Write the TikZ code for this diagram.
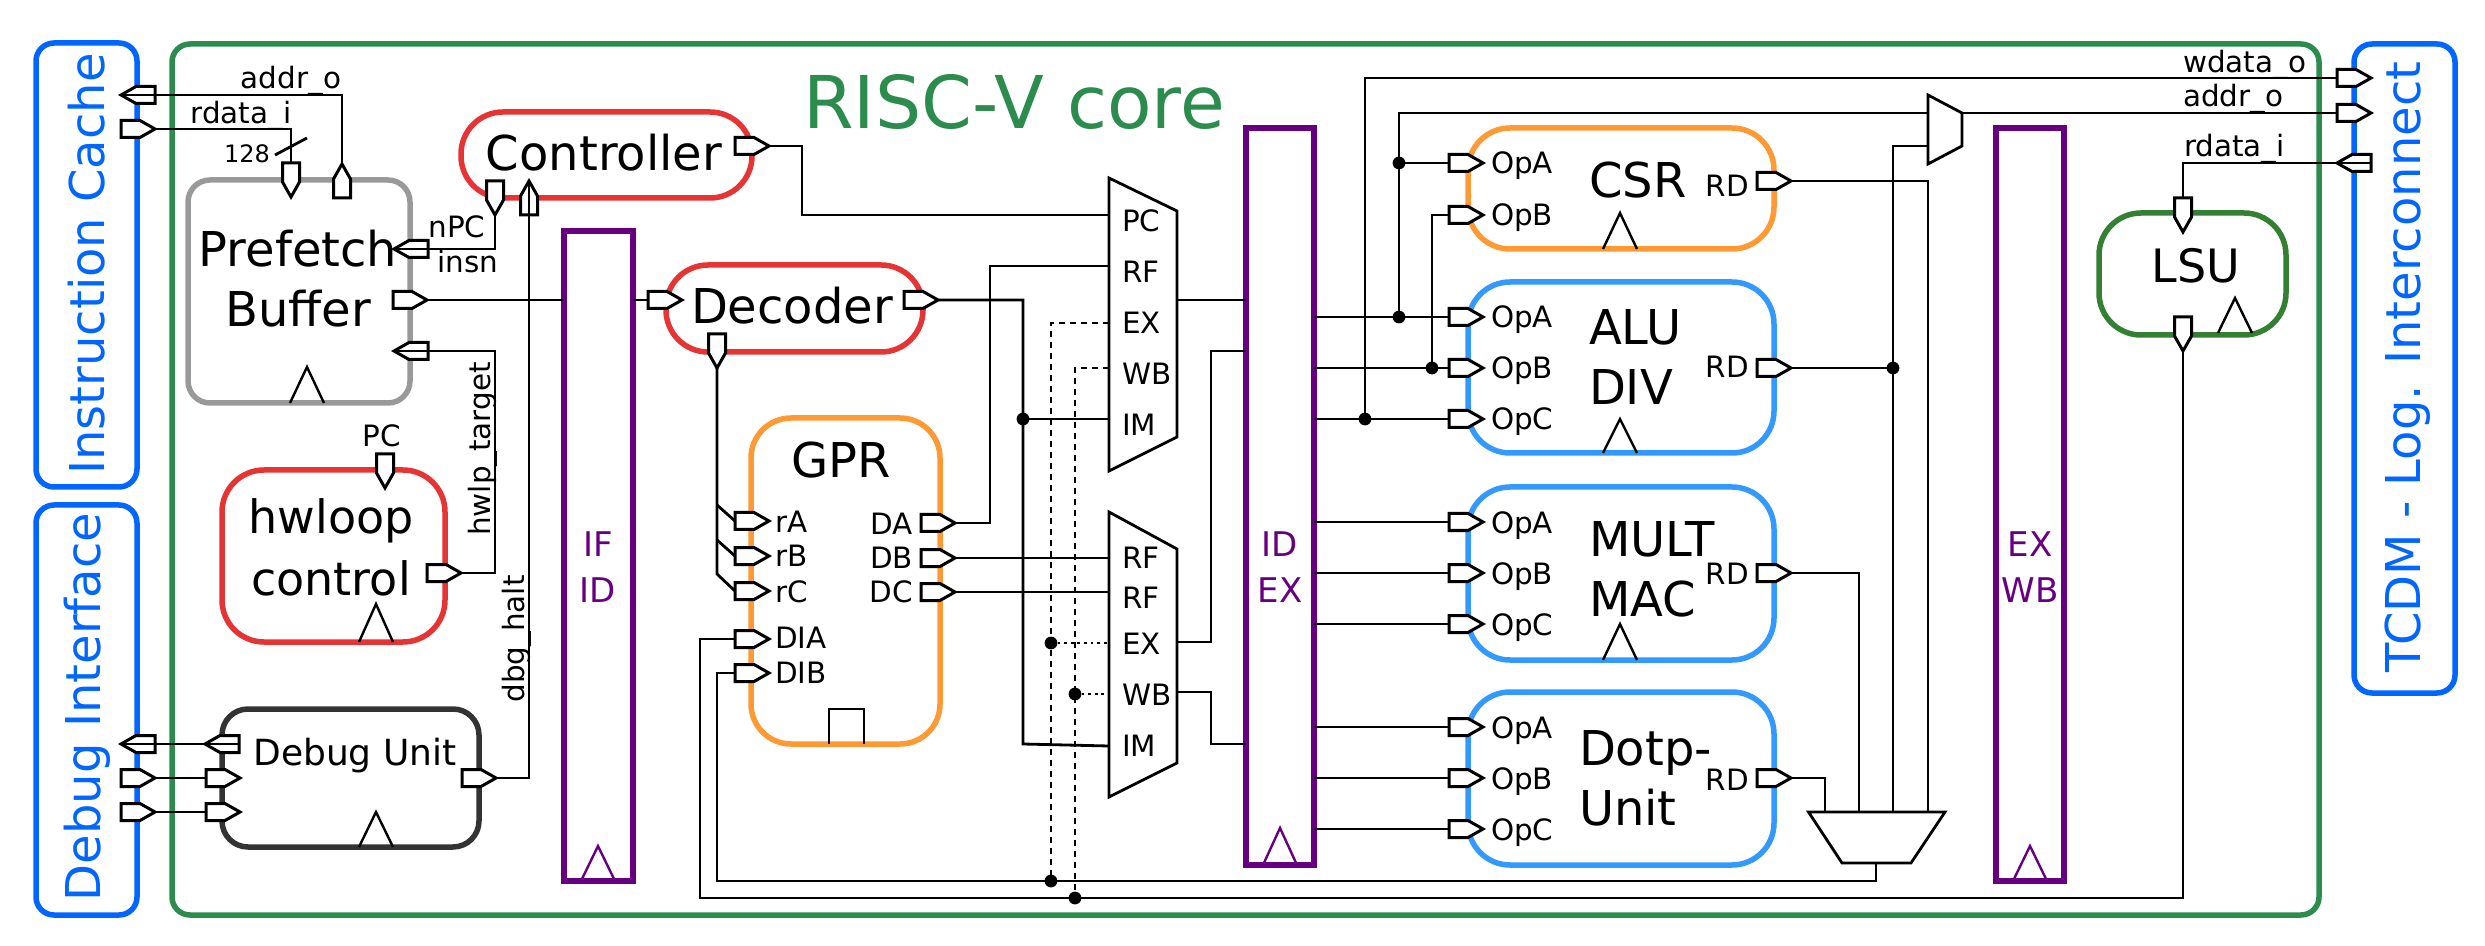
\documentclass[tikz,border=0pt]{standalone}
\usepackage{fontspec}
\setmainfont{DejaVu Sans}
\definecolor{cOuter}{HTML}{0066FF}
\definecolor{cCore}{HTML}{2B8C4D}
\definecolor{cRed}{HTML}{E63333}
\definecolor{cGray}{HTML}{999999}
\definecolor{cOrange}{HTML}{FF9933}
\definecolor{cBlue}{HTML}{3399FF}
\definecolor{cPurple}{HTML}{660080}
\definecolor{cLsu}{HTML}{338033}
\definecolor{cDbg}{HTML}{333333}
\tikzset{
  blockst/.style={draw, line width=2.75pt, inner sep=0pt, outer sep=0pt, fill=none},
  portline/.style={draw=black, fill=white, line width=1.5pt, line join=miter},
  portbase/.style={shape=rectangle, inner sep=0pt, outer sep=0pt},
  portR/.style={portbase, anchor=west, minimum width=17pt, minimum height=8.5pt,
    append after command={\pgfextra{\draw[portline] (\tikzlastnode.north west) -- ([xshift=-7.5pt]\tikzlastnode.north east) -- (\tikzlastnode.east) -- ([xshift=-7.5pt]\tikzlastnode.south east) -- (\tikzlastnode.south west) -- cycle;}}},
  portL/.style={portbase, anchor=east, minimum width=17pt, minimum height=8.5pt,
    append after command={\pgfextra{\draw[portline] (\tikzlastnode.north east) -- ([xshift=7.5pt]\tikzlastnode.north west) -- (\tikzlastnode.west) -- ([xshift=7.5pt]\tikzlastnode.south west) -- (\tikzlastnode.south east) -- cycle;}}},
  portU/.style={portbase, anchor=south, minimum width=8.5pt, minimum height=17pt,
    append after command={\pgfextra{\draw[portline] (\tikzlastnode.south west) -- ([yshift=-7.5pt]\tikzlastnode.north west) -- (\tikzlastnode.north) -- ([yshift=-7.5pt]\tikzlastnode.north east) -- (\tikzlastnode.south east) -- cycle;}}},
  portD/.style={portbase, anchor=north, minimum width=8.5pt, minimum height=17pt,
    append after command={\pgfextra{\draw[portline] (\tikzlastnode.north west) -- ([yshift=7.5pt]\tikzlastnode.south west) -- (\tikzlastnode.south) -- ([yshift=7.5pt]\tikzlastnode.south east) -- (\tikzlastnode.north east) -- cycle;}}},
  wire/.style={draw=black, line width=1.4pt, line join=miter},
  dash1/.style={wire, dash pattern=on 3pt off 2.5pt},
  dot1/.style={wire, dash pattern=on 1.4pt off 1.9pt},
  clockst/.style={draw=black, line width=1.2pt, line join=miter},
  muxst/.style={draw=black, line width=1.4pt, fill=white, line join=miter},
  jdot/.style={circle, fill=black, inner sep=0pt, minimum size=6.4pt},
  lbl/.style={inner sep=0pt, outer sep=0pt, font=\fontsize{14.7}{18}\selectfont, anchor=base},
  lblW/.style={lbl, anchor=base west},
  lblE/.style={lbl, anchor=base east},
  big/.style={inner sep=0pt, outer sep=0pt, font=\fontsize{24}{30}\selectfont, align=center},
  bar/.style={inner sep=0pt, outer sep=0pt, font=\fontsize{17}{23}\selectfont, align=center, text=cPurple},
  outerlbl/.style={inner sep=0pt, outer sep=0pt, font=\fontsize{24}{30}\selectfont, text=cOuter, rotate=90, anchor=base},
  vlbl/.style={inner sep=0pt, outer sep=0pt, font=\fontsize{14.7}{18}\selectfont, rotate=90, anchor=base},
}
\newcommand{\bblk}[7]{% name x1 y1 x2 y2 colour radius
  \node[blockst, draw=#6, rounded corners=#7*0.5pt,
        minimum width={(#4-#2)*0.5pt}, minimum height={(#5-#3)*0.5pt}]
        (#1) at ({(#2+#4)/2},{(#3+#5)/2}) {};}
\newcommand{\clk}[4]{% x apexy basey colour
  \draw[clockst, draw=#4] ({#1-17},#3) -- (#1,#2) -- ({#1+17},#3);}
\begin{document}
\begin{tikzpicture}[x=0.5pt,y=-0.5pt]
\useasboundingbox (0,0) rectangle (2485,946);
% --- outer frames
\bblk{ic}{36}{43}{137}{487}{cOuter}{18}
\bblk{dbgif}{36}{505}{137}{915}{cOuter}{18}
\bblk{core}{172}{44}{2319}{915}{cCore}{18}
\bblk{tcdm}{2354}{44}{2455}{693}{cOuter}{18}
\node[outerlbl] (lIC) at (104,264) {Instruction Cache};
\node[outerlbl] (lDI) at (100.5,707) {Debug Interface};
\node[outerlbl] (lTC) at (2420,367) {TCDM - Log. Interconnect};
\node[inner sep=0pt, anchor=base, font=\fontsize{36.4}{40}\selectfont, text=cCore] (lCore) at (1014,129) {RISC-V core};
% --- blocks
\bblk{pf}{188}{180}{410}{403}{cGray}{22}
\bblk{ctrl}{461}{112}{752}{198}{cRed}{42}
\bblk{dec}{666}{265}{923}{352}{cRed}{42}
\bblk{hw}{222}{470}{445}{642}{cRed}{42}
\bblk{dbg}{222}{709}{479}{847}{cDbg}{26}
\bblk{gpr}{751}{418}{940}{744}{cOrange}{40}
\bblk{csr}{1468}{128}{1774}{249}{cOrange}{42}
\bblk{alu}{1468}{282}{1774}{453}{cBlue}{42}
\bblk{mul}{1468}{487}{1774}{660}{cBlue}{42}
\bblk{dot}{1468}{692}{1774}{865}{cBlue}{42}
\bblk{lsu}{2099}{213}{2286}{335}{cLsu}{42}
\bblk{ifid}{564}{231}{633}{881}{cPurple}{0}
\bblk{idex}{1246}{128}{1314}{865}{cPurple}{0}
\bblk{exwb}{1996}{128}{2064}{881}{cPurple}{0}
% --- block texts
\node[big] (tPf) at (298,279) {Prefetch\\Buffer};
\node[big, anchor=base] (tCtrl) at (604,171) {Controller};
\node[big, anchor=base] (tDec) at (792,324) {Decoder};
\node[big, font=\fontsize{23}{31}\selectfont] (tHw) at (331,547) {hwloop\\control};
\node[inner sep=0pt, anchor=base, font=\fontsize{18}{22}\selectfont] (tDbg) at (355,765) {Debug Unit};
\node[big, anchor=base] (tGpr) at (841,478) {GPR};
\node[big, anchor=base west] (tCsr) at (1589,198) {CSR};
\node[big, anchor=west, align=left] (tAlu) at (1589,357.5) {ALU\\DIV};
\node[big, anchor=west, align=left] (tMul) at (1589,569) {MULT\\MAC};
\node[big, anchor=west, align=left] (tDot) at (1579,778) {Dotp-\\Unit};
\node[big, anchor=base, font=\fontsize{23}{30}\selectfont] (tLsu) at (2196,283) {LSU};
\node[bar] (tIf) at (598,567.5) {IF\\ID};
\node[bar] (tId) at (1280,567.5) {ID\\EX};
\node[bar] (tEx) at (2030,567.5) {EX\\WB};
% --- clock marks
\clk{307}{367}{403}{black}
\clk{376}{604}{642}{black}
\clk{376}{812}{847}{black}
\clk{1620}{213}{249}{black}
\clk{1620}{419}{453}{black}
\clk{1620}{624}{660}{black}
\clk{2235}{298}{333}{black}
\clk{598}{846}{881}{cPurple}
\clk{1280}{828}{865}{cPurple}
\clk{2030}{846}{881}{cPurple}
\draw[clockst] (829,744) -- (829,709) -- (864,709) -- (864,744);
% --- multiplexers
\draw[muxst] (1109,178) -- (1177,211) -- (1177,437) -- (1109,471) -- cycle;
\draw[muxst] (1109,512) -- (1177,549) -- (1177,763) -- (1109,797) -- cycle;
\draw[muxst] (1928,95) -- (1962,113) -- (1962,146) -- (1928,164) -- cycle;
\draw[muxst] (1808.5,812) -- (1945,812) -- (1911,863) -- (1842,863) -- cycle;
\foreach \n/\x/\y in {mAo/1962/113, mAa/1928/113, mAb/1928/146,
  mBd/1825/812, mBm/1859/812, mBa/1893/812, mBc/1928/812, mBo/1876/863,
  mPC/1109/215, mRF/1109/266, mEX/1109/323, mWB/1109/368, mIM/1109/419, mOut/1177/300,
  nRFa/1109/558, nRFb/1109/592, nEX/1109/643, nWB/1109/694, nIM/1109/746, nOa/1177/642, nOb/1177/692}
  \coordinate (\n) at (\x,\y);
% --- mux labels
\node[lblW] (xa) at (1122,232) {PC};
\node[lblW] (xb) at (1122,283) {RF};
\node[lblW] (xc) at (1122,334) {EX};
\node[lblW] (xd) at (1122,385) {WB};
\node[lblW] (xe) at (1122,436) {IM};
\node[lblW] (ya) at (1122,568) {RF};
\node[lblW] (yb) at (1122,608) {RF};
\node[lblW] (yc) at (1122,654) {EX};
\node[lblW] (yd) at (1122,705) {WB};
\node[lblW] (ye) at (1122,756) {IM};
% --- ports
\node[portL] (iA) at (155,95) {};
\node[portR] (iR) at (121,129) {};
\node[portD] (pfR) at (291,163) {};
\node[portU] (pfA) at (342,198) {};
\node[portL] (pfN) at (428,249) {};
\node[portR] (pfO) at (393,300) {};
\node[portL] (pfH) at (428,351) {};
\node[portD] (cN) at (495,181) {};
\node[portU] (cH) at (529,215) {};
\node[portR] (cO) at (735,146) {};
\node[portR] (dI) at (648,300) {};
\node[portR] (dO) at (904,300) {};
\node[portD] (dB) at (717,334) {};
\node[portD] (hP) at (385,454) {};
\node[portR] (hO) at (427,573) {};
\node[portL] (oDa) at (155,744) {};
\node[portR] (oDb) at (121,778) {};
\node[portR] (oDc) at (121,812) {};
\node[portL] (uDa) at (239,744) {};
\node[portR] (uDb) at (206,778) {};
\node[portR] (uDc) at (206,812) {};
\node[portR] (uH) at (462,778) {};
\node[portR] (gA) at (735,521) {};
\node[portR] (gB) at (735,556) {};
\node[portR] (gC) at (735,591) {};
\node[portR] (gDIA) at (735,639) {};
\node[portR] (gDIB) at (735,673) {};
\node[portR] (gDA) at (921,523) {};
\node[portR] (gDB) at (921,558) {};
\node[portR] (gDC) at (921,592) {};
\node[portR] (csA) at (1449,163) {};
\node[portR] (csB) at (1449,215) {};
\node[portR] (csO) at (1757,181) {};
\node[portR] (alA) at (1449,317) {};
\node[portR] (alB) at (1449,368) {};
\node[portR] (alC) at (1449,419) {};
\node[portR] (alO) at (1757,368) {};
\node[portR] (muA) at (1449,522) {};
\node[portR] (muB) at (1449,573) {};
\node[portR] (muC) at (1449,624) {};
\node[portR] (muO) at (1757,573) {};
\node[portR] (doA) at (1449,727) {};
\node[portR] (doB) at (1449,778) {};
\node[portR] (doC) at (1449,829) {};
\node[portR] (doO) at (1757,778) {};
\node[portD] (lsT) at (2183,198) {};
\node[portD] (lsB) at (2183,317) {};
\node[portR] (tW) at (2337,78) {};
\node[portR] (tA) at (2337,113) {};
\node[portL] (tR) at (2371,163) {};
% --- port labels
\node[lbl] (l1) at (291,89) {addr\_o};
\node[lbl] (l2) at (241,124) {rdata\_i};
\node[lbl, font=\fontsize{12}{14}\selectfont] (l3) at (247,163) {128};
\node[lbl] (l4) at (457,238) {nPC};
\node[lbl] (l5) at (468,273) {insn};
\node[lbl] (l6) at (382,447) {PC};
\node[vlbl] (l7) at (490,449) {hwlp\_target};
\node[vlbl] (l8) at (524,639) {dbg\_halt};
\node[lblW] (l9) at (775,532) {rA};
\node[lblW] (l10) at (775,567) {rB};
\node[lblW] (l11) at (775,602) {rC};
\node[lblW] (l12) at (775,648) {DIA};
\node[lblW] (l13) at (775,683) {DIB};
\node[lblE] (l14) at (913,534) {DA};
\node[lblE] (l15) at (913,568) {DB};
\node[lblE] (l16) at (913,603) {DC};
\foreach \nm/\y/\t in {a1/174/OpA, a2/226/OpB, a3/328/OpA, a4/379/OpB, a5/430/OpC, a6/533/OpA, a7/584/OpB, a8/635/OpC, a9/738/OpA, a10/789/OpB, a11/840/OpC}
  \node[lblW] (\nm) at (1491,\y) {\t};
\foreach \nm/\y in {r1/197, r2/378, r3/584, r4/790}
  \node[lblE] (\nm) at (1749,\y) {RD};
\node[lblW] (l17) at (2183,73) {wdata\_o};
\node[lblW] (l18) at (2183,107) {addr\_o};
\node[lblW] (l19) at (2184,157) {rdata\_i};
% --- named wire corners
\coordinate (cc1) at (275,155);
\coordinate (cc2) at (307,138);
\coordinate (wH1) at (495,351);
\coordinate (wH2) at (495,573);
\coordinate (wD1) at (529,778);
\coordinate (wC1) at (802,146);
\coordinate (wC2) at (802,215);
\coordinate (wR1) at (717,574);
\coordinate (wR2) at (717,505);
\coordinate (wR3) at (717,540);
\coordinate (wI1) at (1023,300);
\coordinate (wI2) at (1023,744);
\coordinate (wI3) at (1023,419);
\coordinate (wA1) at (990,523);
\coordinate (wA2) at (990,266);
\coordinate (wX1) at (1051,323);
\coordinate (wX2) at (1051,881);
\coordinate (wX3) at (1051,643);
\coordinate (wW1) at (1075,368);
\coordinate (wW2) at (1075,898);
\coordinate (wW3) at (1075,694);
\coordinate (wF1) at (1211,642);
\coordinate (wF2) at (1211,351);
\coordinate (wF3) at (1211,692);
\coordinate (wF4) at (1211,744);
\coordinate (wT1) at (1365,78);
\coordinate (wT2) at (1365,419);
\coordinate (wU1) at (1399,113);
\coordinate (wU2) at (1399,317);
\coordinate (wU3) at (1399,163);
\coordinate (wV1) at (1432,215);
\coordinate (wV2) at (1432,368);
\coordinate (wS1) at (1928,181);
\coordinate (wS2) at (1893,146);
\coordinate (wS3) at (1893,368);
\coordinate (wB1) at (1876,881);
\coordinate (wB2) at (717,881);
\coordinate (wB3) at (717,673);
\coordinate (wL1) at (2183,898);
\coordinate (wL2) at (700,898);
\coordinate (wL3) at (700,639);
\coordinate (wL4) at (2183,163);
% --- wires
\draw[wire] (pfA.north) |- (iA.west);
\draw[wire] (iR.east) -| (pfR.north);
\draw[wire] (cc1) -- (cc2);
\draw[wire] (cN.south) |- (pfN.west);
\draw[wire] (pfO.east) -- (ifid.west |- pfO.east);
\draw[wire] (ifid.east |- dI.west) -- (dI.west);
\draw[wire] (pfH.west) -- (wH1) -- (wH2) -- (hO.east);
\draw[wire] (cH.north) -- (wD1) -- (uH.east);
\draw[wire] (cO.east) -- (wC1) -- (wC2) -- (mPC);
\draw[wire] (oDa.west) -- (uDa.east);
\draw[wire] (oDb.east) -- (uDb.west);
\draw[wire] (oDc.east) -- (uDc.west);
\draw[wire] (dB.south) -- (wR1) -- (gC.west);
\draw[wire] (wR2) -- (gA.west);
\draw[wire] (wR3) -- (gB.west);
\draw[wire] (dO.east) -- (wI1) -- (wI2) -- (nIM);
\draw[wire] (wI3) -- (mIM);
\draw[wire] (gDA.east) -- (wA1) -- (wA2) -- (mRF);
\draw[wire] (gDB.east) -- (nRFa);
\draw[wire] (gDC.east) -- (nRFb);
\draw[dash1] (mEX) -- (wX1) -- (wX2);
\draw[dash1] (mWB) -- (wW1) -- (wW2);
\draw[dot1] (wX3) -- (nEX);
\draw[dot1] (wW3) -- (nWB);
\draw[wire] (mOut) -- (idex.west |- mOut);
\draw[wire] (nOa) -- (wF1) -- (wF2) -- (idex.west |- wF2);
\draw[wire] (nOb) -- (wF3) -- (wF4) -- (idex.west |- wF4);
\foreach \p in {alA,alB,alC,muA,muB,muC,doA,doB,doC}
  \draw[wire] (idex.east |- \p.west) -- (\p.west);
\draw[wire] (tW.west) -- (wT1) -- (wT2);
\draw[wire] (mAa) -- (wU1) -- (wU2);
\draw[wire] (wU3) -- (csA.west);
\draw[wire] (csB.west) -- (wV1) -- (wV2);
\draw[wire] (wU1) -- (mAa);
\draw[wire] (mAo) -- (tA.west);
\draw[wire] (csO.east) -- (wS1) -- (mBc);
\draw[wire] (mAb) -- (wS2) -- (mBa);
\draw[wire] (alO.east) -- (wS3);
\draw[wire] (muO.east) -| (mBm);
\draw[wire] (doO.east) -| (mBd);
\draw[wire] (mBo) -- (wB1) -- (wB2) -- (wB3) -- (gDIB.west);
\draw[wire] (lsB.south) -- (wL1) -- (wL2) -- (wL3) -- (gDIA.west);
\draw[wire] (tR.east) -- (wL4) -- (lsT.north);
% --- junctions
\foreach \n/\c in {j1/wU3, j2/wU2, j3/wV2, j4/wT2, j5/wS3, j6/wI3, j7/wX3, j8/wW3, j9/wX2, j10/wW2}
  \node[jdot] (\n) at (\c) {};
\end{tikzpicture}
\end{document}
